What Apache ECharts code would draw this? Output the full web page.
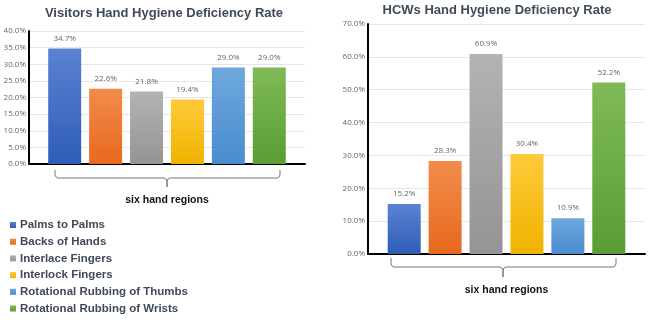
<!DOCTYPE html>
<html>
<head>
<meta charset="utf-8">
<script src="https://cdn.jsdelivr.net/npm/echarts@6/dist/echarts.min.js"></script>
<style>
  html, body { margin: 0; padding: 0; background: #fff; }
  #main { width: 650px; height: 323px; }
</style>
</head>
<body>
<div id="main"></div>
<script>
// hand regions (legend / series names)
var regions = ['Palms to Palms', 'Backs of Hands', 'Interlace Fingers', 'Interlock Fingers',
  'Rotational Rubbing of Thumbs', 'Rotational Rubbing of Wrists'];
// deficiency rates in %
var visitorsRate = [34.7, 22.6, 21.8, 19.4, 29.0, 29.0];
var hcwsRate = [15.2, 28.3, 60.9, 30.4, 10.9, 52.2];
var category = ['six hand regions'];

// top / bottom colours of each bar gradient
var colorTop = ['#5b82d3', '#f28b4c', '#b3b3b3', '#ffca3a', '#6ea8de', '#7fba57'];
var colorBottom = ['#2e5db7', '#e8691d', '#949494', '#efb300', '#4a8bcf', '#5a9d34'];

var chart = echarts.init(document.getElementById('main'));

function grad(i) {
  return {
    type: 'linear', x: 0, y: 0, x2: 0, y2: 1,
    colorStops: [{ offset: 0, color: colorTop[i] }, { offset: 1, color: colorBottom[i] }]
  };
}

function pct(v) { return v.toFixed(1) + '%'; }

var series = [];
[visitorsRate, hcwsRate].forEach(function (arr, g) {
  regions.forEach(function (name, i) {
    series.push({
      name: name,
      type: 'bar',
      xAxisIndex: g,
      yAxisIndex: g,
      barWidth: 33,
      barGap: '24%',
      data: [arr[i]],
      itemStyle: { color: grad(i) },
      label: {
        show: true,
        position: 'top',
        distance: 6,
        fontSize: 8,
        color: '#666',
        fontFamily: 'Open Sans',
        formatter: function (p) { return pct(p.value); }
      }
    });
  });
});

function xAxis(idx) {
  return {
    type: 'category',
    gridIndex: idx,
    data: category,
    axisLine: { lineStyle: { color: '#000', width: 2 } },
    axisTick: { show: false },
    axisLabel: { margin: 31, fontSize: 10.5, fontWeight: 'bold', color: '#111', fontFamily: 'Liberation Sans' }
  };
}

function yAxis(idx, max, step) {
  return {
    type: 'value',
    gridIndex: idx,
    min: 0,
    max: max,
    interval: step,
    axisLine: { show: true, lineStyle: { color: '#000', width: 2 } },
    axisTick: { show: false },
    axisLabel: { fontSize: 8, color: '#666', margin: 3, fontFamily: 'Open Sans', formatter: pct },
    splitLine: { lineStyle: { color: '#e6e6e6' } }
  };
}

// curly brace under a category axis
function brace(x1, x2, xm, y1, y2, y3) {
  var r = 3;
  return {
    type: 'polyline',
    shape: {
      points: [
        [x1, y1], [x1, y2 - r], [x1 + 1, y2 - 1], [x1 + r, y2],
        [xm - r, y2], [xm - 1, y2 + 1], [xm, y2 + r], [xm, y3],
        [xm, y2 + r], [xm + 1, y2 + 1], [xm + r, y2],
        [x2 - r, y2], [x2 - 1, y2 - 1], [x2, y2 - r], [x2, y1]
      ]
    },
    style: { fill: null, stroke: '#777', lineWidth: 1 }
  };
}

chart.setOption({
  animation: false,
  title: [
    { text: 'Visitors Hand Hygiene Deficiency Rate', left: 159, top: 2, textAlign: 'center',
      textStyle: { fontSize: 13, fontWeight: 'bold', color: '#414a5a', fontFamily: 'Liberation Sans' } },
    { text: 'HCWs Hand Hygiene Deficiency Rate', left: 492, top: -1, textAlign: 'center',
      textStyle: { fontSize: 13, fontWeight: 'bold', color: '#414a5a', fontFamily: 'Liberation Sans' } }
  ],
  legend: {
    data: regions,
    orient: 'vertical',
    left: 10,
    top: 219,
    height: 120,
    padding: 0,
    itemWidth: 6,
    itemHeight: 6,
    itemGap: 4.7,
    icon: 'rect',
    textStyle: { fontSize: 11.5, fontWeight: 'bold', color: '#414a5a', fontFamily: 'Liberation Sans', padding: [0, 0, 0, -1] }
  },
  grid: [
    { left: 29, right: 345, top: 31, bottom: 159 },
    { left: 368, right: 5, top: 24, bottom: 69 }
  ],
  xAxis: [xAxis(0), xAxis(1)],
  yAxis: [yAxis(0, 40, 5), yAxis(1, 70, 10)],
  series: series,
  graphic: [
    brace(55, 280, 167, 170, 178, 187),
    brace(391, 616, 503, 258, 267, 277)
  ]
});
</script>
</body>
</html>
